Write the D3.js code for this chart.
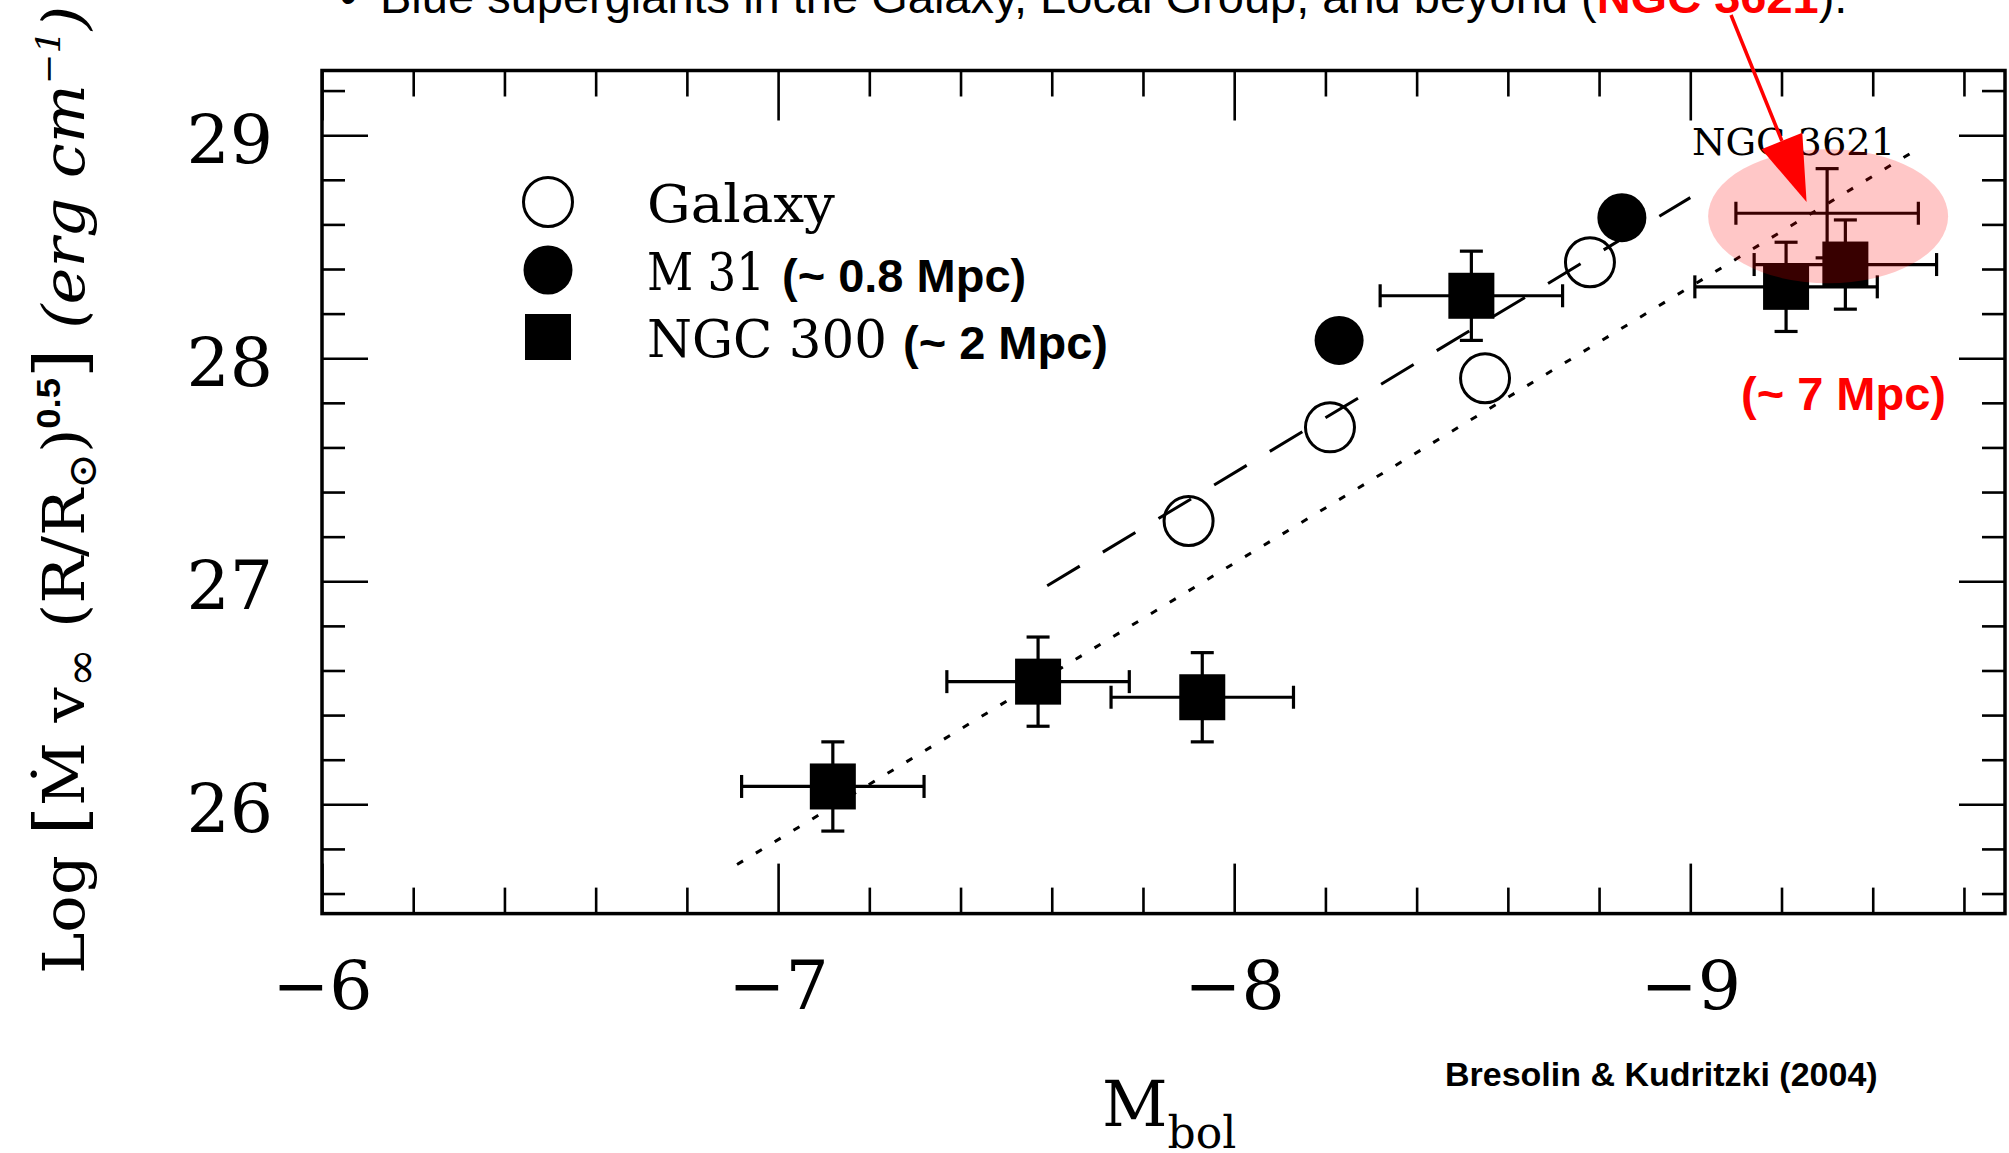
<!DOCTYPE html>
<html>
<head>
<meta charset="utf-8">
<script src="https://cdn.jsdelivr.net/npm/d3@7"></script>
<style>
  body { margin: 0; background: #fff; }
  svg { display: block; }
</style>
</head>
<body>
<div id="chart"></div>
<script>
// Galaxy (open circles)
var galaxyX = [-7.90, -8.21, -8.55, -8.78];
var galaxyY = [27.27, 27.69, 27.91, 28.43];
// M 31 (filled circles)
var m31X = [-8.23, -8.85];
var m31Y = [28.08, 28.63];
// NGC 300 (squares with error bars)
var ngc300X = [-7.12, -7.57, -7.93, -8.52, -9.21, -9.34];
var ngc300Y = [26.08, 26.55, 26.48, 28.28, 28.32, 28.42];
var ngc300ErrX = [0.2, 0.2, 0.2, 0.2, 0.2, 0.2];
var ngc300ErrY = [0.2, 0.2, 0.2, 0.2, 0.2, 0.2];
// NGC 3621 (error cross only)
var ngc3621X = [-9.30];
var ngc3621Y = [28.65];
var ngc3621ErrX = [0.2];
var ngc3621ErrY = [0.2];
// regression lines (end points)
var dashedFitX = [-7.59, -9.00];
var dashedFitY = [26.98, 28.72];
var dottedFitX = [-6.91, -9.50];
var dottedFitY = [25.73, 28.94];
// ticks
var xTicks = [-6, -7, -8, -9];
var yTicks = [26, 27, 28, 29];
var xMinorStep = 0.2, yMinorStep = 0.2;
// legend
var legendLabels = ["Galaxy", "M 31", "NGC 300"];
var legendNotes = ["", "(~ 0.8 Mpc)", "(~ 2 Mpc)"];

function init() {
    var W = 2009, H = 1153;
    var left = 322, right = 2005, top = 70.5, bottom = 913.6;
    var serif = "'DejaVu Serif', serif";
    var sans = "'Liberation Sans', Arial, sans-serif";

    var x = d3.scaleLinear().domain([-6, -9.69]).range([left, right]);
    var y = d3.scaleLinear().domain([25.51, 29.29]).range([bottom, top]);

    var svg = d3.select("#chart").append("svg")
        .attr("width", W)
        .attr("height", H);

    // minor tick positions
    var xMinor = d3.range(-6, -9.69, -xMinorStep).map(function(d) { return +d.toFixed(1); })
        .filter(function(d) { return xTicks.indexOf(d) < 0; });
    var yMinor = d3.range(25.6, 29.29, yMinorStep).map(function(d) { return +d.toFixed(1); })
        .filter(function(d) { return yTicks.indexOf(d) < 0; });

    function styleAxis(g) {
        g.select(".domain").remove();
        g.selectAll("line").attr("stroke", "#000").attr("stroke-width", 2.6);
    }

    // bottom axis (ticks point inward)
    svg.append("g").attr("transform", "translate(0," + bottom + ")")
        .call(d3.axisBottom(x).tickValues(xMinor).tickSize(-26).tickFormat(""))
        .call(styleAxis);
    svg.append("g").attr("transform", "translate(0," + bottom + ")")
        .call(d3.axisBottom(x).tickValues(xTicks).tickSize(-50).tickPadding(47)
            .tickFormat(function(d) { return "\u2212" + Math.abs(d); }))
        .call(styleAxis)
        .selectAll("text")
        .attr("font-family", serif).attr("font-size", 68).attr("fill", "#000");

    // top axis
    svg.append("g").attr("transform", "translate(0," + top + ")")
        .call(d3.axisTop(x).tickValues(xMinor).tickSize(-26).tickFormat(""))
        .call(styleAxis);
    svg.append("g").attr("transform", "translate(0," + top + ")")
        .call(d3.axisTop(x).tickValues(xTicks).tickSize(-50).tickFormat(""))
        .call(styleAxis);

    // left axis
    svg.append("g").attr("transform", "translate(" + left + ",0)")
        .call(d3.axisLeft(y).tickValues(yMinor).tickSize(-23).tickFormat(""))
        .call(styleAxis);
    svg.append("g").attr("transform", "translate(" + left + ",0)")
        .call(d3.axisLeft(y).tickValues(yTicks).tickSize(-46).tickPadding(49).tickFormat(d3.format("d")))
        .call(styleAxis)
        .selectAll("text")
        .attr("dy", "0.4em")
        .attr("font-family", serif).attr("font-size", 68).attr("fill", "#000");

    // right axis
    svg.append("g").attr("transform", "translate(" + right + ",0)")
        .call(d3.axisRight(y).tickValues(yMinor).tickSize(-23).tickFormat(""))
        .call(styleAxis);
    svg.append("g").attr("transform", "translate(" + right + ",0)")
        .call(d3.axisRight(y).tickValues(yTicks).tickSize(-46).tickFormat(""))
        .call(styleAxis);

    // frame
    svg.append("rect")
        .attr("x", left).attr("y", top)
        .attr("width", right - left).attr("height", bottom - top)
        .attr("fill", "none").attr("stroke", "#000").attr("stroke-width", 3.5);

    // fit lines
    var line = d3.line()
        .x(function(d) { return x(d[0]); })
        .y(function(d) { return y(d[1]); });

    svg.append("path")
        .datum(d3.zip(dashedFitX, dashedFitY))
        .attr("d", line)
        .attr("fill", "none").attr("stroke", "#000")
        .attr("stroke-width", 3).attr("stroke-dasharray", "38,27");

    svg.append("path")
        .datum(d3.zip(dottedFitX, dottedFitY))
        .attr("d", line)
        .attr("fill", "none").attr("stroke", "#000")
        .attr("stroke-width", 3).attr("stroke-dasharray", "7,15");

    // error bars
    function errorBars(xs, ys, ex, ey) {
        var data = xs.map(function(d, i) { return {x: d, y: ys[i], ex: ex[i], ey: ey[i]}; });
        var cap = 11.5;
        var g = svg.append("g").attr("stroke", "#000").attr("stroke-width", 3.2);
        data.forEach(function(d) {
            var cx = x(d.x), cy = y(d.y);
            var x0 = x(d.x + d.ex), x1 = x(d.x - d.ex);
            var y0 = y(d.y + d.ey), y1 = y(d.y - d.ey);
            g.append("line").attr("x1", x0).attr("x2", x1).attr("y1", cy).attr("y2", cy);
            g.append("line").attr("x1", x0).attr("x2", x0).attr("y1", cy - cap).attr("y2", cy + cap);
            g.append("line").attr("x1", x1).attr("x2", x1).attr("y1", cy - cap).attr("y2", cy + cap);
            g.append("line").attr("x1", cx).attr("x2", cx).attr("y1", y0).attr("y2", y1);
            g.append("line").attr("x1", cx - cap).attr("x2", cx + cap).attr("y1", y0).attr("y2", y0);
            g.append("line").attr("x1", cx - cap).attr("x2", cx + cap).attr("y1", y1).attr("y2", y1);
        });
    }
    errorBars(ngc300X, ngc300Y, ngc300ErrX, ngc300ErrY);
    errorBars(ngc3621X, ngc3621Y, ngc3621ErrX, ngc3621ErrY);

    var sq = 46, r = 24.5;

    // NGC 300 squares
    svg.append("g").selectAll("rect")
        .data(d3.zip(ngc300X, ngc300Y))
        .enter().append("rect")
        .attr("x", function(d) { return x(d[0]) - sq / 2; })
        .attr("y", function(d) { return y(d[1]) - sq / 2; })
        .attr("width", sq).attr("height", sq)
        .attr("fill", "#000");

    // Galaxy open circles
    svg.append("g").selectAll("circle")
        .data(d3.zip(galaxyX, galaxyY))
        .enter().append("circle")
        .attr("cx", function(d) { return x(d[0]); })
        .attr("cy", function(d) { return y(d[1]); })
        .attr("r", r)
        .attr("fill", "none").attr("stroke", "#000").attr("stroke-width", 3);

    // M 31 filled circles
    svg.append("g").selectAll("circle")
        .data(d3.zip(m31X, m31Y))
        .enter().append("circle")
        .attr("cx", function(d) { return x(d[0]); })
        .attr("cy", function(d) { return y(d[1]); })
        .attr("r", r)
        .attr("fill", "#000");

    // NGC 3621 label
    svg.append("text")
        .attr("x", 1692).attr("y", 155)
        .attr("font-family", serif).attr("font-size", 38)
        .attr("textLength", 203).attr("lengthAdjust", "spacingAndGlyphs")
        .text("NGC 3621");

    // highlight ellipse over NGC 3621
    svg.append("ellipse")
        .attr("cx", x(ngc3621X[0]) + 1).attr("cy", y(ngc3621Y[0]) + 3)
        .attr("rx", 120).attr("ry", 67)
        .attr("fill", "#ff0000").attr("fill-opacity", 0.22);

    // legend
    var legendY = [202, 270, 337];
    var lx = 548, tx = 647;
    svg.append("circle").attr("cx", lx).attr("cy", legendY[0]).attr("r", r)
        .attr("fill", "none").attr("stroke", "#000").attr("stroke-width", 3);
    svg.append("circle").attr("cx", lx).attr("cy", legendY[1]).attr("r", r).attr("fill", "#000");
    svg.append("rect").attr("x", lx - sq / 2).attr("y", legendY[2] - sq / 2)
        .attr("width", sq).attr("height", sq).attr("fill", "#000");

    var labelWidths = [188, 118, 240];
    var noteX = [0, 782, 903];
    legendLabels.forEach(function(lab, i) {
        svg.append("text")
            .attr("x", tx).attr("y", legendY[i] + 20)
            .attr("font-family", serif).attr("font-size", 52)
            .attr("textLength", labelWidths[i]).attr("lengthAdjust", "spacingAndGlyphs")
            .text(lab);
        if (legendNotes[i]) {
            svg.append("text")
                .attr("x", noteX[i]).attr("y", legendY[i] + 22)
                .attr("font-family", sans).attr("font-weight", "bold").attr("font-size", 47)
                .text(legendNotes[i]);
        }
    });

    // distance note for NGC 3621
    svg.append("text")
        .attr("x", 1741).attr("y", 410)
        .attr("font-family", sans).attr("font-weight", "bold").attr("font-size", 47)
        .attr("fill", "#ff0000")
        .text("(~ 7 Mpc)");

    // slide title (cut at top, as on the slide)
    svg.append("text")
        .attr("x", 340).attr("y", 13)
        .attr("font-family", sans).attr("font-size", 47)
        .text("\u2022");
    var title = svg.append("text")
        .attr("x", 380).attr("y", 13)
        .attr("font-family", sans).attr("font-size", 47);
    title.append("tspan").text("Blue supergiants in the Galaxy, Local Group, and beyond (");
    title.append("tspan").attr("fill", "#ff0000").attr("font-weight", "bold").text("NGC 3621");
    title.append("tspan").text(").");

    // red arrow pointing to NGC 3621
    var tip = [x(-9.255), y(28.70)];
    var start = [1731, 15];
    var ang = Math.atan2(tip[1] - start[1], tip[0] - start[0]);
    var headLen = 66, headHalf = 22;
    var base = [tip[0] - headLen * Math.cos(ang), tip[1] - headLen * Math.sin(ang)];
    svg.append("line")
        .attr("x1", start[0]).attr("y1", start[1])
        .attr("x2", base[0]).attr("y2", base[1])
        .attr("stroke", "#ff0000").attr("stroke-width", 3.5);
    svg.append("path")
        .attr("d", "M" + tip[0] + "," + tip[1] +
            "L" + (base[0] + headHalf * Math.sin(ang)) + "," + (base[1] - headHalf * Math.cos(ang)) +
            "L" + (base[0] - headHalf * Math.sin(ang)) + "," + (base[1] + headHalf * Math.cos(ang)) + "Z")
        .attr("fill", "#ff0000");

    // x axis title
    var xt = svg.append("text")
        .attr("x", 1102).attr("y", 1126)
        .attr("font-family", serif).attr("font-size", 64);
    xt.append("tspan").text("M");
    xt.append("tspan").attr("font-size", 44).attr("dy", 22).text("bol");

    // y axis title
    var yt = svg.append("text")
        .attr("transform", "translate(84,490) rotate(-90)")
        .attr("text-anchor", "middle")
        .attr("font-family", serif).attr("font-size", 58)
        .attr("textLength", 968).attr("lengthAdjust", "spacingAndGlyphs");
    yt.append("tspan").text("Log ");
    yt.append("tspan").attr("font-size", 70).text("[");
    yt.append("tspan").text("\u1E40 v");
    yt.append("tspan").attr("font-size", 44).attr("baseline-shift", "-12").text("\u221E");
    yt.append("tspan").text(" (R/R");
    yt.append("tspan").attr("font-size", 40).attr("baseline-shift", "-12").text("\u2299");
    yt.append("tspan").text(")");
    yt.append("tspan").attr("font-size", 34).attr("font-family", sans).attr("font-weight", "bold")
        .attr("baseline-shift", "24").text("0.5");
    yt.append("tspan").attr("font-size", 70).text("]");
    yt.append("tspan").attr("font-style", "italic").text(" (erg cm");
    yt.append("tspan").attr("font-style", "italic").attr("font-size", 34)
        .attr("baseline-shift", "24").text("\u22121");
    yt.append("tspan").attr("font-style", "italic").text(")");

    // credit
    svg.append("text")
        .attr("x", 1445).attr("y", 1086)
        .attr("font-family", sans).attr("font-weight", "bold").attr("font-size", 34)
        .text("Bresolin & Kudritzki (2004)");
}
init();
</script>
</body>
</html>
